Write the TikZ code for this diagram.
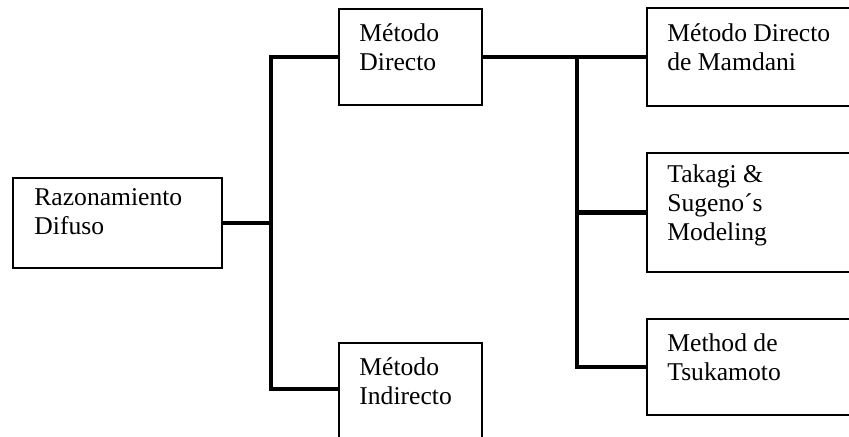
\documentclass[tikz,border=0pt]{standalone}
\usepackage{fontspec}
\setmainfont{Liberation Serif}
\usetikzlibrary{positioning}

\tikzset{
  box/.style={draw, line width=1pt, inner sep=0pt},
  lbl/.style={anchor=west, align=left, inner sep=0pt,
              font=\fontsize{12.8}{14.5}\selectfont},
  bus/.style={line width=2.4pt, line join=miter}
}

\begin{document}
\begin{tikzpicture}[x=0.5pt, y=-0.5pt]
  \useasboundingbox (0,0) rectangle (849,436);
  \clip (0,0) rectangle (849,436);
  % Boxes
  \node[box, minimum width=104.5pt, minimum height=45pt] (raz) at (117.5,223) {};
  \node[box, minimum width=71.5pt, minimum height=48pt] (dir) at (410.5,57) {};
  \node[box, minimum width=71.5pt, minimum height=60pt] (ind) at (410.5,403) {};
  \node[box, minimum width=140pt, minimum height=49pt] (mam) at (787,57) {};
  \node[box, minimum width=140pt, minimum height=59.5pt] (tak) at (787,212.5) {};
  \node[box, minimum width=140pt, minimum height=48pt] (tsu) at (787,367) {};
  % Box texts
  \node[lbl] (razt) at ([xshift=11pt, yshift=5.5pt]raz.west) {Razonamiento\\Difuso};
  \node[lbl] (dirt) at ([xshift=10.5pt, yshift=5pt]dir.west) {Método\\Directo};
  \node[lbl] (indt) at ([xshift=10.5pt, yshift=11pt]ind.west) {Método\\Indirecto};
  \node[lbl] (mamt) at ([xshift=10.5pt, yshift=5pt]mam.west) {Método Directo\\de Mamdani};
  \node[lbl] (takt) at ([xshift=10.5pt, yshift=3.5pt]tak.west) {Takagi \&\\Sugeno´s\\Modeling};
  \node[lbl] (tsut) at ([xshift=10.5pt, yshift=5pt]tsu.west) {Method de\\Tsukamoto};
  % Branch points
  \coordinate (fork1) at (271,0);
  \coordinate (fork2) at (577,0);
  % Connectors
  \draw[bus] (raz.east) -- (fork1 |- raz.east);
  \draw[bus] (dir.west) -| (fork1 |- 0,389) -- (ind.west |- 0,389);
  \draw[bus] (dir.east) -- (mam.west);
  \draw[bus] (fork2 |- dir.east) |- (tsu.west);
  \draw[bus] (fork2 |- tak.west) -- (tak.west);
\end{tikzpicture}
\end{document}
